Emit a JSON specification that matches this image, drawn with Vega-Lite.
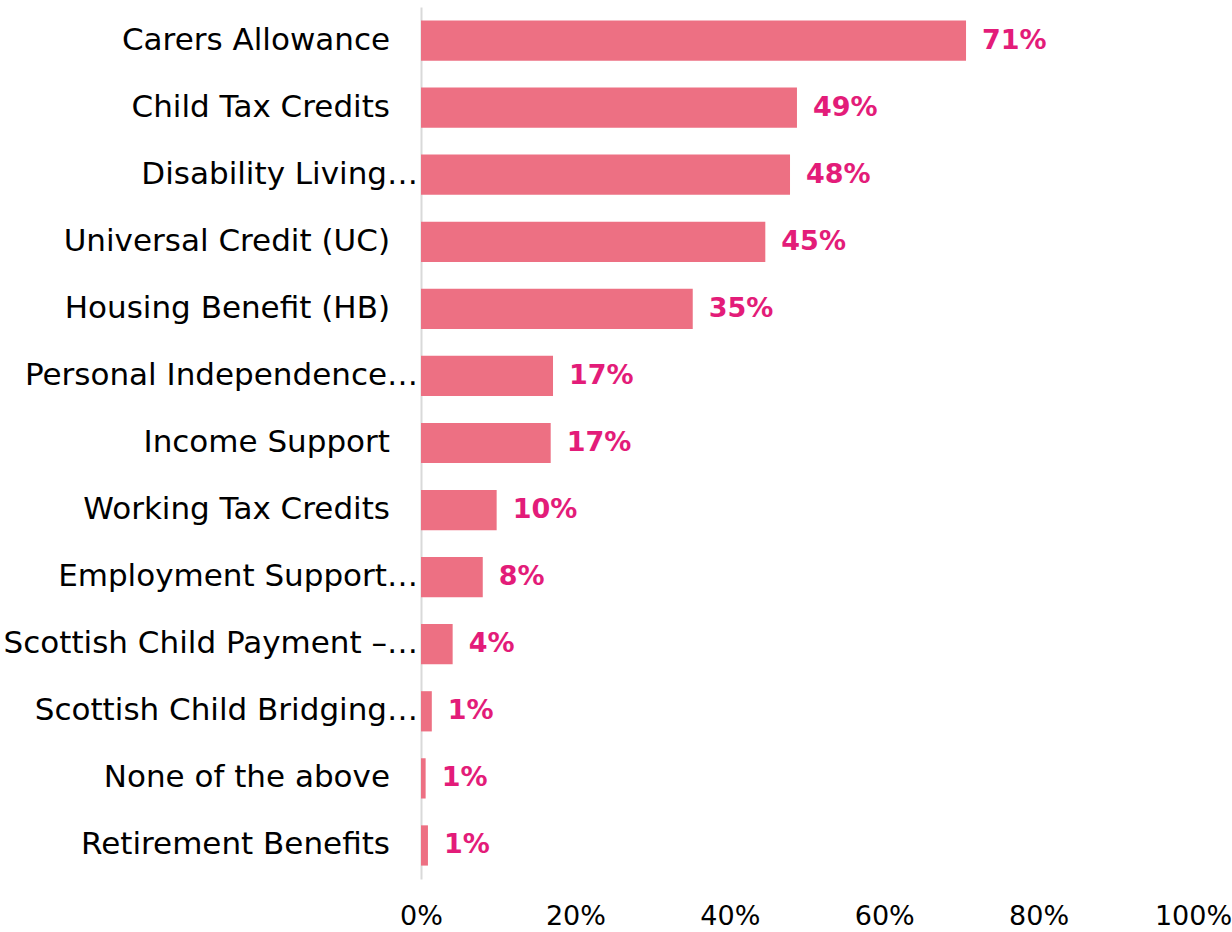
{
  "$schema": "https://vega.github.io/schema/vega-lite/v6.json",
  "autosize": "none",
  "width": 772,
  "height": 872,
  "padding": {"left": 421, "top": 7, "right": 39, "bottom": 53},
  "background": "white",
  "config": {"view": {"stroke": null}, "font": "DejaVu Sans"},
  "data": {
    "values": [
      {"benefit": "Carers Allowance", "share": 0.706},
      {"benefit": "Child Tax Credits", "share": 0.487},
      {"benefit": "Disability Living…", "share": 0.478},
      {"benefit": "Universal Credit (UC)", "share": 0.446},
      {"benefit": "Housing Benefit (HB)", "share": 0.352},
      {"benefit": "Personal Independence…", "share": 0.171},
      {"benefit": "Income Support", "share": 0.168},
      {"benefit": "Working Tax Credits", "share": 0.098},
      {"benefit": "Employment Support…", "share": 0.080},
      {"benefit": "Scottish Child Payment –…", "share": 0.041},
      {"benefit": "Scottish Child Bridging…", "share": 0.014},
      {"benefit": "None of the above", "share": 0.006},
      {"benefit": "Retirement Benefits", "share": 0.009}
    ]
  },
  "encoding": {
    "y": {
      "field": "benefit",
      "type": "nominal",
      "sort": null,
      "scale": {"paddingInner": 0.4, "paddingOuter": 0.2},
      "axis": {
        "title": null,
        "ticks": false,
        "labels": false,
        "domainColor": "#D9D9D9",
        "domainWidth": 2
      }
    }
  },
  "layer": [
    {
      "mark": {"type": "bar", "color": "#ED7083"},
      "encoding": {
        "x": {
          "field": "share",
          "type": "quantitative",
          "scale": {"domain": [0, 1], "nice": false},
          "axis": {
            "title": null,
            "format": ".0%",
            "values": [0, 0.2, 0.4, 0.6, 0.8, 1],
            "grid": false,
            "domain": false,
            "ticks": false,
            "labelFontSize": 27,
            "labelColor": "#000000",
            "labelPadding": 24,
            "labelFlush": false
          }
        }
      }
    },
    {
      "mark": {"type": "text", "align": "left", "baseline": "middle", "dx": 16, "fontSize": 27, "fontWeight": "bold", "color": "#E31C79"},
      "encoding": {
        "x": {"field": "share", "type": "quantitative"},
        "text": {"field": "share", "type": "quantitative", "format": ".0%"}
      }
    },
    {
      "transform": [{"filter": "indexof(datum.benefit, '…') >= 0"}],
      "mark": {"type": "text", "align": "right", "baseline": "middle", "dx": -3, "fontSize": 31, "color": "#000000"},
      "encoding": {
        "x": {"datum": 0, "type": "quantitative"},
        "text": {"field": "benefit", "type": "nominal"}
      }
    },
    {
      "transform": [{"filter": "indexof(datum.benefit, '…') < 0"}],
      "mark": {"type": "text", "align": "right", "baseline": "middle", "dx": -31, "fontSize": 31, "color": "#000000"},
      "encoding": {
        "x": {"datum": 0, "type": "quantitative"},
        "text": {"field": "benefit", "type": "nominal"}
      }
    }
  ]
}
